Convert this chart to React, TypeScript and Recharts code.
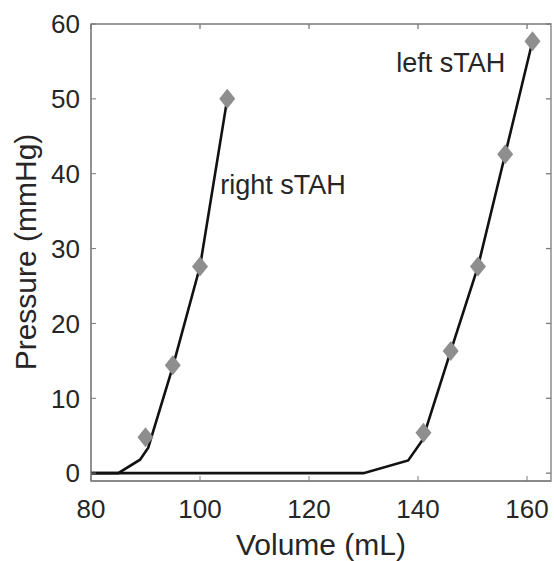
import { ComposedChart, Line, Scatter, XAxis, YAxis, ReferenceDot, ReferenceLine, ReferenceArea } from 'recharts';

// Model curves (solid lines)
const rightCurveVolume = [80, 85, 89, 90.5, 95, 100, 105];
const rightCurvePressure = [0, 0, 1.8, 3.4, 14.2, 27.6, 50];
const leftCurveVolume = [80, 130, 138.2, 140.8, 146, 151, 156, 161];
const leftCurvePressure = [0, 0, 1.7, 4.4, 16.3, 27.6, 42.6, 57.7];

// Measured points (grey diamonds)
const rightMeasVolume = [90, 95, 100, 105];
const rightMeasPressure = [4.8, 14.4, 27.6, 50];
const leftMeasVolume = [141, 146, 151, 156, 161];
const leftMeasPressure = [5.4, 16.3, 27.6, 42.6, 57.7];

const xTicks = [80, 100, 120, 140, 160];
const yTicks = [0, 10, 20, 30, 40, 50, 60];

const toPoints = (vols: number[], pres: number[]) => vols.map((v, i) => ({ v, p: pres[i] }));

const rightCurve = toPoints(rightCurveVolume, rightCurvePressure);
const leftCurve = toPoints(leftCurveVolume, leftCurvePressure);
const rightMeas = toPoints(rightMeasVolume, rightMeasPressure);
const leftMeas = toPoints(leftMeasVolume, leftMeasPressure);

const FONT = '"Liberation Sans", Arial, Helvetica, sans-serif';
const TEXT = '#262626';
const AXIS = '#7a7a7a';
const X_MIN = 80;
const X_MAX = 164.4;
const Y_MIN = -1.05;
const Y_MAX = 60;

const Diamond = (props: any) => {
  const { cx, cy } = props;
  if (cx == null || cy == null) return null;
  return (
    <polygon
      points={`${cx},${cy - 10} ${cx + 8},${cy} ${cx},${cy + 10} ${cx - 8},${cy}`}
      fill="#8e8e8e"
    />
  );
};

const annotation = (text: string) => (props: any) => {
  const vb = props.viewBox || {};
  return (
    <text x={vb.x} y={vb.y} dy="0.36em" fill={TEXT} fontSize={27} fontFamily={FONT}>
      {text}
    </text>
  );
};

const YTitle = () => (
  <text
    x={25}
    y={252}
    transform="rotate(-90, 25, 252)"
    textAnchor="middle"
    dominantBaseline="central"
    fill={TEXT}
    fontSize={30}
    fontFamily={FONT}
  >
    Pressure (mmHg)
  </text>
);

export default function App() {
  const tickStyle = { fontSize: 26, fill: TEXT, fontFamily: FONT };
  return (
    <div style={{ position: 'absolute', left: 0, top: 0, background: '#fff' }}>
      <ComposedChart
        width={554}
        height={561}
        margin={{ top: 24, right: 3, bottom: 0, left: 0 }}
      >
        <XAxis
          type="number"
          dataKey="v"
          domain={[X_MIN, X_MAX]}
          ticks={xTicks}
          stroke={AXIS}
          tickSize={-5}
          tickMargin={24}
          height={80}
          tick={tickStyle}
          label={{
            value: 'Volume (mL)',
            position: 'insideBottom',
            offset: 6,
            fontSize: 30,
            fill: TEXT,
            fontFamily: FONT,
          }}
        />
        <YAxis
          type="number"
          dataKey="p"
          domain={[Y_MIN, Y_MAX]}
          ticks={yTicks}
          stroke={AXIS}
          tickSize={-5}
          tickMargin={16}
          width={91}
          tick={tickStyle}
          label={{ content: YTitle }}
        />

        {/* box outline with inward ticks on top and right */}
        <ReferenceArea
          x1={X_MIN}
          x2={X_MAX}
          y1={Y_MIN}
          y2={Y_MAX}
          fill="none"
          fillOpacity={0}
          stroke={AXIS}
          strokeWidth={1.3}
          strokeOpacity={1}
          ifOverflow="visible"
        />
        {xTicks.map((t) => (
          <ReferenceLine
            key={`tx${t}`}
            segment={[{ x: t, y: Y_MAX }, { x: t, y: Y_MAX - 0.67 }]}
            stroke={AXIS}
            strokeWidth={1.3}
            ifOverflow="visible"
          />
        ))}
        {yTicks.map((t) => (
          <ReferenceLine
            key={`ty${t}`}
            segment={[{ x: X_MAX, y: t }, { x: X_MAX - 0.92, y: t }]}
            stroke={AXIS}
            strokeWidth={1.3}
            ifOverflow="visible"
          />
        ))}

        <Line
          data={leftCurve}
          dataKey="p"
          type="linear"
          stroke="#111111"
          strokeWidth={2.6}
          dot={false}
          isAnimationActive={false}
        />
        <Line
          data={rightCurve}
          dataKey="p"
          type="linear"
          stroke="#111111"
          strokeWidth={2.6}
          dot={false}
          isAnimationActive={false}
        />
        <Scatter data={rightMeas} dataKey="p" shape={Diamond} isAnimationActive={false} />
        <Scatter data={leftMeas} dataKey="p" shape={Diamond} isAnimationActive={false} />
        <ReferenceDot x={103.7} y={38.6} r={0} fill="none" stroke="none" label={annotation('right sTAH')} />
        <ReferenceDot x={136} y={54.9} r={0} fill="none" stroke="none" label={annotation('left sTAH')} />
      </ComposedChart>
    </div>
  );
}
